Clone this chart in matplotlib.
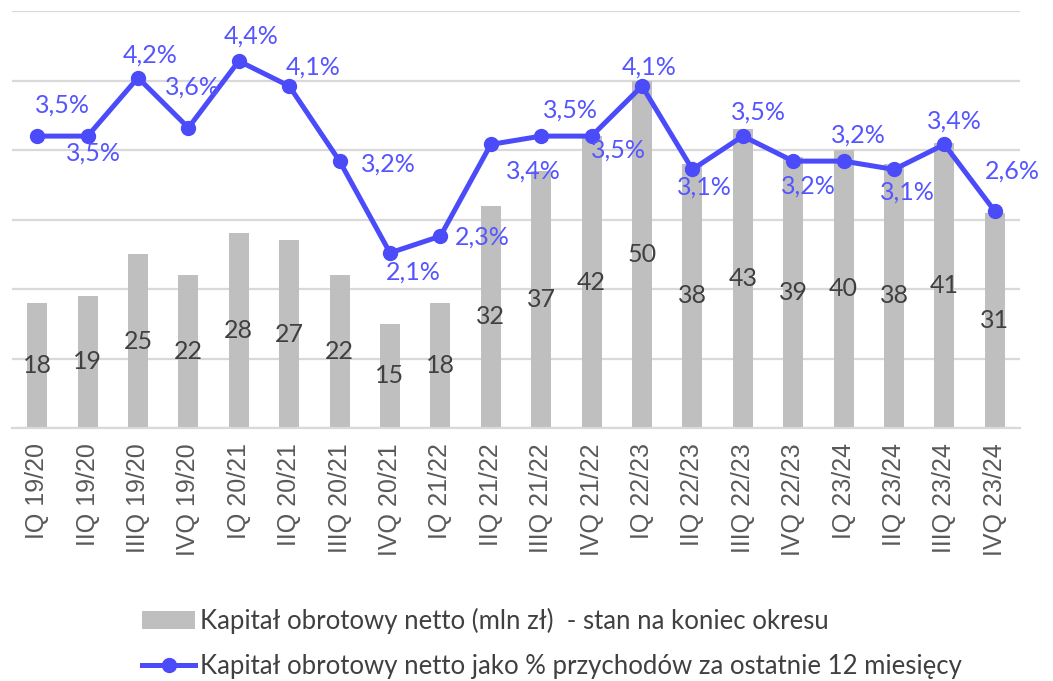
import numpy as np
import matplotlib
matplotlib.use("Agg")
import matplotlib.pyplot as plt

plt.rcParams['font.family'] = ['Lato', 'DejaVu Sans']

# ------------------------------------------------------------
# Data
# ------------------------------------------------------------
quarters = ['IQ 19/20', 'IIQ 19/20', 'IIIQ 19/20', 'IVQ 19/20',
            'IQ 20/21', 'IIQ 20/21', 'IIIQ 20/21', 'IVQ 20/21',
            'IQ 21/22', 'IIQ 21/22', 'IIIQ 21/22', 'IVQ 21/22',
            'IQ 22/23', 'IIQ 22/23', 'IIIQ 22/23', 'IVQ 22/23',
            'IQ 23/24', 'IIQ 23/24', 'IIIQ 23/24', 'IVQ 23/24']
kapital_mln = [18, 19, 25, 22, 28, 27, 22, 15, 18, 32,
               37, 42, 50, 38, 43, 39, 40, 38, 41, 31]
kapital_pct = [3.5, 3.5, 4.2, 3.6, 4.4, 4.1, 3.2, 2.1, 2.3, 3.4,
               3.5, 3.5, 4.1, 3.1, 3.5, 3.2, 3.2, 3.1, 3.4, 2.6]

BAR_LABEL = 'Kapitał obrotowy netto (mln zł)  - stan na koniec okresu'
LINE_LABEL = 'Kapitał obrotowy netto jako % przychodów za ostatnie 12 miesięcy'

# label offsets for the % annotations (points), as placed in the original
pct_offsets = [(18, 22), (4, -12), (9, 16), (3, 29), (9, 18), (17, 14),
               (35, -2), (17, -14), (30, -1), (31, -19), (21, 19), (19, -10),
               (5, 14), (9, -13), (11, 17), (11, -18), (11, 19), (10, -16),
               (7, 17), (13, 29)]

BAR_COLOR = '#BFBFBF'
LINE_COLOR = '#4B4BFA'
PCT_COLOR = '#5555FF'
TEXT_COLOR = '#404040'
TICK_COLOR = '#595959'
GRID_COLOR = '#D9D9D9'

# ------------------------------------------------------------
# Figure
# ------------------------------------------------------------
fig = plt.figure(figsize=(10.53, 6.81), dpi=100)
ax = fig.add_axes([12 / 1053, 1 - 428 / 681, (1020 - 12) / 1053, (428 - 11) / 681])
x = np.arange(len(quarters))

bars = ax.bar(x, kapital_mln, width=0.4, color=BAR_COLOR, label=BAR_LABEL, zorder=2)
for xi, v in zip(x, kapital_mln):
    ax.text(xi, v / 2, str(v), ha='center', va='center',
            fontsize=18, color=TEXT_COLOR, zorder=3)

ax2 = ax.twinx()
line, = ax2.plot(x, kapital_pct, color=LINE_COLOR, linewidth=3.6,
                 marker='o', markersize=10, label=LINE_LABEL, zorder=4)
ax2.set_ylim(0, 5)
ax2.axis('off')
for xi, v, (dx, dy) in zip(x, kapital_pct, pct_offsets):
    ax2.annotate(f'{v:.1f}%'.replace('.', ','), (xi, v), xytext=(dx, dy),
                 textcoords='offset points', ha='center', va='center',
                 fontsize=18, color=PCT_COLOR, zorder=5)

# axis styling (after twinx, which resets the left ticks)
ax.set_xlim(-0.5, len(quarters) - 0.5)
ax.set_ylim(0, 60)
ax.set_yticks(np.arange(0, 61, 10))
ax.yaxis.grid(True, color=GRID_COLOR, linewidth=1.6, zorder=0)
ax.set_axisbelow(True)
ax.tick_params(axis='y', left=False, right=False, labelleft=False)
ax.tick_params(axis='x', length=0, pad=11)
ax.set_xticks(x)
ax.set_xticklabels(quarters, rotation=90, fontsize=18, color=TICK_COLOR,
                   family='Liberation Sans')
for s in ['top', 'right', 'left']:
    ax.spines[s].set_visible(False)
ax.spines['bottom'].set_color(GRID_COLOR)
ax.spines['bottom'].set_linewidth(1.6)

fig.legend([bars, line], [BAR_LABEL, LINE_LABEL], loc='upper left',
           bbox_to_anchor=(119 / 1053, 1 - 585 / 681), frameon=False,
           prop={'size': 18.5}, handlelength=2.06,
           handletextpad=0.2, labelspacing=0.75, labelcolor=TEXT_COLOR)

fig.savefig('out.png', dpi=100)
